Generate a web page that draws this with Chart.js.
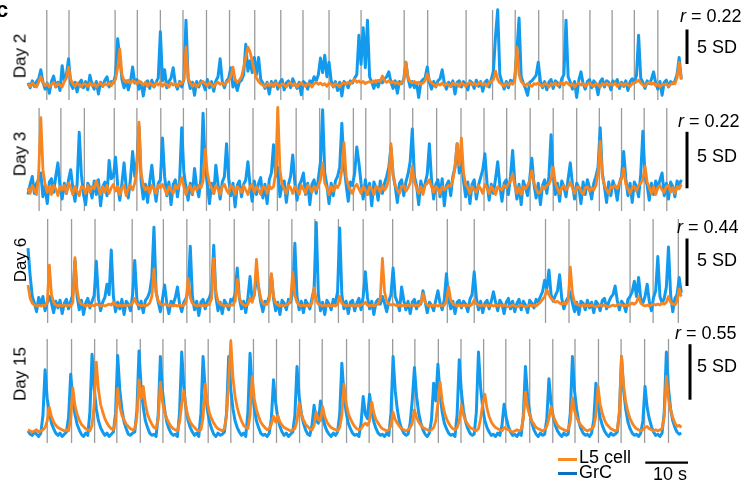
<!DOCTYPE html>
<html>
<head>
<meta charset="utf-8">
<script src="https://cdn.jsdelivr.net/npm/chart.js@4.4.1/dist/chart.umd.min.js"></script>
<style>
  html, body { margin: 0; padding: 0; background: #fff; }
  body {
    width: 746px; height: 484px; position: relative; overflow: hidden;
    font-family: 'Liberation Sans', Arial, sans-serif; color: #000;
  }
  canvas { position: absolute; left: 0; }
  .txt { position: absolute; white-space: nowrap; font-size: 18px; line-height: 1; }
  .day { transform: translate(-50%, -50%) rotate(-90deg); font-size: 17px; }
  .swatch { position: absolute; height: 3px; width: 19px; }
</style>
</head>
<body>
<script>
/// Sampling step of the traces, seconds
const SAMPLE_DT = 0.5

const dayLabels = ['Day 2', 'Day 3', 'Day 6', 'Day 15']
const rValues = ['0.22', '0.22', '0.44', '0.55']
const legendLabels = ['L5 cell', 'GrC']
const SD_BAR = 5
const TIME_BAR = 10

// GrC traces (SD), one row = 10 s
const day2Grc = [
  0.3, -0.4, 0.6, -0.2, 0.5, 0.9, 2.2, 0.4, -0.6, 0.3, -1.2, 0.5, 1.3, -0.3, 0.4, -0.8, 2.8, 0.6, 1.5, 3.8,
  0.2, -0.5, 0.4, -1.0, 0.3, 0.7, -0.4, 0.5, -0.7, 1.4, 0.1, -0.6, 0.5, -1.3, 0.4, -0.2, 0.7, 1.2, -0.3, 0.5,
  0.3, 1.5, 6.7, 4.0, 0.8, -0.4, 0.6, -0.7, 0.5, 2.6, 0.3, 0.8, -0.6, 0.4, -1.6, 0.3, 0.6, -0.5, 0.7, -0.3,
  0.4, 1.0, 7.7, 0.6, 2.2, -0.4, 0.5, 1.0, 2.5, 0.2, -0.6, 0.5, -0.3, 0.8, 9.4, 1.0, -0.5, 0.4, -1.5, 0.5,
  -0.3, 0.6, 0.2, -0.7, 0.8, -0.4, 0.5, -0.9, 0.6, 1.2, 3.8, 0.5, -0.4, 0.6, 1.0, 2.5, -0.3, 0.5, -0.8, 0.4,
  0.7, 1.5, 5.9, 2.0, 3.5, 1.8, 4.0, 1.5, 4.0, 0.8, 0.3, -0.5, 0.4, -1.3, 0.5, -0.2, 0.6, -0.6, 0.4, 0.8,
  -0.7, 0.3, 0.6, -0.4, 0.9, 0.2, -0.5, 0.4, -1.4, 0.5, 0.2, -0.6, 0.6, 0.3, 1.2, 0.6, 1.5, 3.9, 1.8, 4.3,
  1.2, 3.3, 0.6, -0.3, 0.5, -0.8, 0.4, -1.6, 0.5, 0.2, -0.4, 0.6, 0.3, 1.0, 1.5, 7.2, 3.0, 8.3, 2.5, 9.4,
  1.2, 0.4, -0.5, 0.6, -0.3, 0.7, 0.3, 0.9, 1.2, 1.9, 0.4, -0.5, 0.6, -1.2, 0.5, 0.2, 0.8, 3.3, 1.0, -0.3,
  0.5, -0.4, 0.3, -1.8, 0.4, 0.8, 1.0, 2.6, 0.4, -0.6, 0.5, -0.3, 0.6, 0.9, 2.2, 0.3, -0.6, 0.4, -0.2, 0.6,
  -1.3, 0.4, 0.6, -0.3, 0.5, 0.1, -0.7, 0.6, 0.3, -0.5, 0.7, -0.2, 0.5, -0.9, 0.4, 0.7, -0.3, 0.8, 2.0, 7.2,
  10.9, 1.5, 0.4, -0.6, 0.5, -0.4, 0.7, 0.3, 1.0, 5.0, 9.7, 1.2, 0.3, -0.5, -1.5, 0.4, 0.6, 1.0, 1.4, 3.3,
  0.6, -0.4, 0.5, -0.7, 0.4, 0.8, -0.5, 0.6, 0.3, -0.3, 0.9, 1.5, 9.4, 1.2, 0.4, -0.6, 0.5, -1.8, 0.7, 1.9,
  0.2, -0.6, 0.5, 0.8, -0.4, 0.6, 0.2, -1.4, 0.5, 0.9, -0.3, 0.6, 0.4, -0.7, 0.6, 0.2, 0.8, -0.5, 0.4, -0.2,
  0.6, -0.8, 0.5, 0.9, 0.3, 1.4, 7.2, 1.0, 0.4, -0.5, 0.6, 0.2, 0.8, 1.9, 0.3, -0.6, 0.5, -1.5, 0.4, 0.7,
  -0.3, 0.5, 0.2, 0.6, 1.5, 4.0, 0.8,
]
const day3Grc = [
  -0.4, 0.5, 1.2, -0.3, 0.6, 0.9, 1.5, -0.6, 0.4, -1.2, 0.7, 1.0, -0.2, 1.2, 2.4, 0.3, -0.8, 0.6, -0.3, 0.9,
  1.8, 0.2, -1.0, 0.5, 5.1, 1.4, -0.4, -1.3, 0.6, 0.2, -0.7, 0.8, -0.4, 0.9, -1.4, 0.3, 0.7, -0.5, 2.6, 1.0,
  1.2, 2.9, 0.4, -0.9, 0.6, 2.4, 0.2, -0.7, 1.0, 3.4, 1.2, 2.5, 5.6, 0.8, -0.8, 0.5, -1.1, 0.7, 2.2, 0.3,
  -1.0, 0.6, 0.9, 4.6, 1.2, -0.5, 0.7, -1.3, 0.5, 0.9, -0.6, 0.8, 5.5, 1.6, 0.2, -0.9, 0.6, -0.4, 1.9, 0.3,
  -0.6, 1.0, 6.8, 2.0, 0.5, -1.2, 0.6, -0.3, 2.2, 0.5, -0.8, 0.7, 1.2, 4.1, 1.0, -0.5, 0.6, -1.5, 0.4, 0.8,
  -0.6, 0.5, 0.9, 2.5, 0.4, -1.0, 0.8, -0.4, 0.6, 1.1, -0.7, 0.5, -1.2, 0.9, 1.5, 4.0, 1.2, 2.0, -0.6, 0.4,
  0.8, -1.1, 0.5, 1.2, 3.1, 0.6, -0.9, 0.4, 0.8, 1.5, -0.4, 0.6, -1.3, 0.5, 0.9, -0.3, 1.0, 2.5, 7.1, 1.5,
  0.4, -1.2, 0.6, -0.5, 0.8, 1.2, 2.0, 5.9, 2.2, 0.5, -1.0, 0.7, 0.4, 1.5, 3.8, 2.4, 0.6, -0.8, 0.9, -0.4,
  0.6, -1.4, 0.7, 0.2, -0.9, 0.8, -0.3, 0.6, 1.2, 2.0, 3.8, 1.4, 0.3, -1.1, 0.6, 0.9, -0.5, 0.7, 1.4, 2.5,
  5.4, 1.2, 0.4, -1.3, 0.8, -0.2, 0.6, 1.4, 4.1, 0.9, -0.8, 0.5, 0.9, -0.6, 1.0, -1.4, 0.4, 0.8, -0.5, 1.2,
  2.0, 4.1, 1.5, 3.0, 0.8, -0.6, 0.7, -1.2, 0.5, 0.9, -0.8, 0.4, 1.1, 1.8, 3.2, 0.6, -0.9, 0.5, -0.3, 1.0,
  2.5, 0.4, -1.0, 0.6, 0.9, -0.4, 1.2, 3.5, 0.7, -0.8, 0.5, -1.3, 0.8, 0.2, -0.5, 1.0, 2.8, 0.5, -0.7, 0.6,
  -1.3, 0.4, 0.9, -0.3, 1.2, 4.9, 1.3, -0.4, 0.6, -1.0, 0.8, 0.3, -0.6, 1.0, 2.4, 0.5, -0.8, 0.6, 0.2, -1.2,
  0.7, -0.4, 0.9, 0.2, -0.8, 0.6, 1.2, 2.0, 5.5, 1.5, 0.3, -1.1, 0.7, -0.5, 0.8, 0.2, -0.9, 0.6, 1.2, 3.4,
  1.0, -0.5, 0.6, -1.1, 0.7, 0.3, -0.6, 1.4, 5.2, 1.2, 0.4, -0.9, 0.6, -0.4, 0.8, 0.2, 0.9, 1.5, -0.5, 0.6,
  -0.8, 0.7, 0.3, -0.6, 0.8, 0.4, 0.9,
]
const day6Grc = [
  6.1, 3.2, 1.0, 0.3, -0.6, 0.9, 0.2, 1.0, -0.5, 0.4, 1.0, 0.3, -0.7, 0.5, -0.2, 0.6, -0.8, 0.3, 0.7, -0.3,
  0.5, 1.2, 4.8, 1.0, -0.4, 0.6, -0.9, 0.3, 0.8, -0.2, 0.5, 1.1, 4.7, 0.8, -0.5, 0.4, 0.9, 2.3, 1.2, 5.9,
  1.0, -0.6, 0.4, -0.3, 0.7, -0.9, 0.5, 0.2, -0.5, 1.2, 4.8, 0.7, -0.3, 0.5, -0.7, 0.6, 0.9, 1.5, 3.0, 8.3,
  1.5, 0.4, -0.6, 0.8, 2.2, 0.3, -0.8, 0.5, 0.2, 0.9, 2.0, 0.2, -0.6, 0.4, 0.8, 1.5, 6.3, 1.0, -0.4, 0.5,
  -1.0, 0.4, 0.7, -0.3, 0.5, 0.9, 1.6, 6.4, 1.0, -0.5, 0.4, -0.8, 0.6, 0.2, -0.4, 0.7, 0.5, 1.3, 4.0, 0.8,
  -0.3, 0.5, -0.7, 0.9, 3.1, 0.6, 1.2, 3.0, 2.0, 0.4, -0.6, 0.5, 0.3, 1.0, 3.3, 0.8, -0.5, 0.4, -0.9, 0.6,
  0.3, -0.4, 0.7, 0.4, 1.5, 6.6, 1.0, -0.4, 0.5, -0.7, 0.6, 0.2, -0.3, 0.8, 1.8, 8.8, 1.2, -0.5, 0.4, -0.9,
  0.6, 0.2, -0.4, 0.7, 0.3, 1.5, 8.2, 1.2, -0.3, 0.5, -0.8, 0.4, 0.6, -0.5, 0.3, 0.8, -0.4, 1.0, 3.6, 0.9,
  -0.3, 0.5, -0.9, 0.4, 0.7, 0.2, 1.0, 0.3, -0.6, 0.5, 1.2, 4.0, 1.0, 0.4, -0.5, 2.0, 0.6, -0.4, 0.5, -0.8,
  0.4, 0.7, -0.3, 0.5, 0.2, 1.6, 0.5, -0.7, 0.4, 0.1, -0.5, 0.6, 1.6, 0.3, -0.4, 0.7, 3.4, 0.8, -0.3, 0.5,
  -0.8, 0.4, 0.6, -0.2, 0.5, 0.2, -0.6, 0.7, 1.2, 3.6, 0.9, -0.4, 0.5, -0.7, 0.3, 0.6, -0.3, 0.5, 1.5, 0.4,
  -0.5, 0.6, 0.2, -0.8, 0.4, 0.8, -0.3, 0.5, -0.6, 0.3, 0.7, -0.4, 0.5, 0.1, -0.7, 0.6, 0.3, -0.2, 0.7, 0.4,
  1.0, 1.5, 2.7, 1.8, 3.8, 1.2, 0.5, 1.1, 1.6, 3.3, 0.8, -0.3, 0.5, 0.9, 1.5, 0.3, -0.6, 0.4, -0.9, 0.5,
  0.3, -0.4, 0.6, -0.2, 0.4, -0.7, 0.5, 0.2, -0.5, 0.6, 0.8, -0.3, 0.4, 0.9, 1.2, 2.1, 0.6, -0.4, 0.5, 0.2,
  -0.6, 0.7, 1.0, 1.5, 2.6, 1.0, 3.0, 0.8, 0.3, 1.0, 2.3, 0.5, -0.5, 0.9, 1.6, 5.2, 1.0, 0.3, 0.8, 2.0,
  6.2, 1.2, -0.6, 0.8, 1.2, 3.0, 1.4,
]
const day15Grc = [
  0.1, -0.2, -0.3, 0.0, -0.2, -0.4, -0.1, 1.5, 5.6, 3.0, 1.8, 0.8, 0.3, -0.1, -0.3, -0.1, -0.4, -0.2, 0.0, 1.3,
  5.2, 2.9, 1.6, 0.7, 0.2, -0.2, -0.4, -0.1, -0.3, 1.8, 7.0, 3.9, 2.1, 1.0, 0.4, 0.0, -0.3, -0.1, -0.4, -0.2,
  0.0, 1.7, 6.9, 3.8, 2.0, 0.9, 0.3, -0.2, -0.3, -0.1, 0.0, 1.9, 7.3, 4.0, 2.2, 1.0, 0.4, -0.1, -0.3, -0.2,
  -0.4, 1.6, 6.8, 3.7, 2.0, 0.9, 0.3, -0.1, -0.3, -0.2, -0.4, 1.8, 7.2, 4.0, 2.1, 1.0, 0.4, 0.0, -0.3, -0.1,
  -0.4, 1.7, 6.8, 3.8, 2.0, 0.9, 0.3, -0.2, -0.4, -0.1, -0.3, -0.2, 0.0, 1.7, 6.8, 3.8, 2.1, 1.0, 0.4, 0.0,
  -0.3, -0.1, -0.4, 1.8, 7.1, 3.9, 2.1, 1.0, 0.4, -0.1, -0.3, -0.2, -0.4, -0.1, 1.2, 4.7, 2.6, 1.3, 0.5, 0.0,
  -0.3, -0.1, -0.4, -0.2, 0.0, 1.5, 5.9, 3.2, 1.7, 0.8, 0.2, -0.2, -0.3, 0.6, 2.4, 1.0, 0.8, 2.8, 1.4, 0.6,
  0.1, -0.2, -0.4, -0.1, -0.3, 0.0, 1.6, 6.2, 3.4, 1.8, 0.8, 0.3, -0.1, -0.3, -0.2, -0.4, 0.8, 3.2, 1.6, 1.2,
  3.4, 1.8, 0.9, 0.3, -0.1, -0.3, -0.2, -0.4, -0.1, -0.3, 1.7, 6.8, 3.7, 2.0, 0.9, 0.3, -0.1, -0.3, -0.2, 0.8,
  2.9, 5.8, 3.2, 1.7, 0.8, 0.2, -0.2, -0.4, -0.1, 1.1, 4.4, 2.8, 6.1, 3.4, 1.8, 0.8, 0.3, -0.1, -0.3, -0.2,
  -0.4, 1.6, 6.5, 3.6, 1.9, 0.9, 0.3, -0.1, -0.3, -0.2, 1.8, 7.2, 4.0, 2.1, 1.0, 0.4, 0.0, -0.3, -0.2, -0.4,
  -0.1, -0.3, 0.6, 2.5, 1.3, 0.5, 0.0, -0.3, -0.2, -0.4, -0.1, -0.3, 1.5, 5.9, 3.2, 1.7, 0.8, 0.2, -0.2, -0.4,
  -0.1, -0.3, -0.2, 1.2, 4.8, 2.6, 1.4, 0.6, 0.1, -0.2, -0.4, -0.1, -0.3, -0.2, 1.7, 6.8, 3.7, 2.0, 0.9, 0.3,
  -0.1, -0.3, -0.2, -0.4, -0.1, 1.1, 4.4, 2.4, 1.3, 0.6, 0.1, -0.2, -0.4, -0.1, -0.3, -0.2, 0.0, 1.7, 6.8, 3.7,
  2.0, 0.9, 0.3, -0.1, -0.3, -0.2, -0.4, -0.1, 1.0, 4.1, 2.2, 1.2, 0.5, 0.0, -0.3, -0.2, -0.4, -0.1, 1.8, 7.2,
  3.9, 2.1, 1.0, 0.4, 0.0, -0.2, -0.1,
]

// L5 cell traces (SD), one row = 10 s
const day2L5 = [
  0.1, -0.2, 0.3, 0.0, -0.3, 0.4, 1.2, 0.3, -0.1, 0.2, -0.3, 0.1, 0.4, -0.2, 0.2, 0.0, -0.3, 0.5, 1.0, 2.6,
  0.8, 0.2, -0.2, 0.3, 0.0, -0.3, 0.2, 0.1, -0.2, 0.3, -0.1, 0.2, -0.3, 0.1, 0.3, -0.2, 0.2, 0.0, 0.3, -0.1,
  0.4, 0.8, 2.5, 5.2, 1.5, 0.6, 0.4, 0.7, 0.3, 0.6, 0.5, 0.2, 0.6, 0.3, 0.0, 0.4, -0.2, 0.3, 0.1, -0.2,
  0.3, 0.0, 0.4, -0.2, 0.2, 0.1, -0.3, 0.3, 0.0, 0.2, -0.2, 0.3, 0.2, 0.8, 5.5, 1.0, 0.3, -0.2, 0.2, -0.3,
  0.1, 0.3, 0.5, 0.2, -0.1, 0.3, 0.0, -0.3, 0.2, 0.4, 0.1, 0.3, 0.0, 0.4, 0.6, 1.2, 2.6, 0.8, 0.4, 0.7,
  1.2, 2.5, 4.0, 5.5, 4.8, 3.5, 2.0, 1.0, 0.5, 0.2, 0.0, -0.3, 0.2, -0.1, 0.2, -0.2, 0.3, 0.0, -0.2, 0.2,
  0.0, -0.3, 0.2, 0.3, -0.1, 0.2, -0.3, 0.1, 0.3, 0.0, -0.2, 0.2, 0.1, -0.3, 0.2, 0.4, 0.1, 0.3, 0.0, 0.2,
  -0.2, 0.3, 0.1, -0.2, 0.2, 0.0, -0.3, 0.2, 0.3, 0.1, 0.4, 0.2, 0.5, 0.8, 0.4, 0.6, 0.3, 0.5, 0.2, 0.4,
  0.5, 0.3, 0.6, 0.4, 0.7, 0.5, 1.3, 0.6, 0.4, 0.6, 0.3, 0.5, 0.2, 0.4, 0.1, 0.3, 0.6, 3.3, 1.0, 0.5,
  0.3, 0.5, 0.2, 0.4, 0.1, 0.3, 0.6, 1.6, 0.7, 0.3, 0.1, -0.2, 0.2, 0.0, 0.3, -0.1, 0.2, 0.0, -0.2, 0.3,
  0.0, 0.2, -0.2, 0.3, 0.1, -0.2, 0.2, 0.4, 0.0, 0.3, -0.1, 0.2, 0.3, 0.0, 0.2, -0.2, 0.3, 0.5, 0.8, 2.0,
  0.8, 0.3, 0.1, -0.2, 0.2, 0.0, 0.3, 0.1, 0.6, 5.5, 1.5, 0.5, 0.2, -0.1, 0.2, 0.0, -0.2, 0.2, 0.1, 0.3,
  0.0, -0.2, 0.2, 0.1, -0.3, 0.2, 0.0, 0.3, -0.1, 0.2, 0.3, 0.0, 0.4, 0.2, -0.1, 0.2, -0.3, 0.1, 0.3, 0.0,
  0.2, -0.2, 0.1, 0.3, 0.0, -0.2, 0.2, 0.1, -0.3, 0.2, 0.0, 0.3, -0.1, 0.2, 0.0, 0.3, -0.2, 0.1, 0.2, -0.1,
  0.2, 0.0, -0.2, 0.2, 0.3, 0.5, 0.7, 0.3, 0.0, -0.2, 0.2, 0.4, 0.1, 0.3, -0.1, 0.2, -0.3, 0.1, 0.0, 0.2,
  -0.2, 0.1, 0.3, 0.2, 1.0, 3.3, 0.8,
]
const day3L5 = [
  0.2, -0.3, 0.4, 0.0, -0.4, 1.5, 6.4, 1.8, 0.5, -0.2, 0.3, -0.4, 0.4, 0.1, -0.5, 0.3, 0.0, 0.4, -0.3, 0.6,
  0.2, -0.4, 0.3, -0.1, -0.5, 0.3, 0.2, -0.3, 0.4, -0.2, 0.3, 0.1, 0.8, 0.2, -0.4, 0.3, -0.2, 0.4, -0.3, 0.2,
  0.5, -0.1, 0.3, -0.4, 0.2, 0.4, -0.5, 0.2, 0.4, 0.0, 0.6, 1.8, 6.0, 1.5, 0.4, 0.0, 0.3, -0.3, 0.4, 0.1,
  -0.3, 0.4, 0.2, 0.5, 0.1, -0.4, 0.3, 0.0, -0.3, 0.4, 0.1, 0.5, 1.1, 0.3, -0.4, 0.2, 0.4, -0.3, 0.3, 0.0,
  0.4, 0.2, 0.8, 3.6, 1.5, 0.6, 0.2, -0.3, 0.4, 0.1, -0.4, 0.3, 0.5, 0.0, -0.3, 0.4, 0.2, -0.4, 0.3, 0.1,
  -0.2, 0.4, 0.0, -0.4, 0.3, 0.5, -0.2, 0.3, 0.0, -0.4, 0.3, 0.2, -0.3, 0.4, 0.1, 0.3, 1.5, 7.3, 1.8, 0.5,
  0.1, -0.3, 0.4, 0.2, -0.3, 0.3, 0.0, -0.4, 0.4, 0.1, -0.3, 0.4, 0.2, -0.2, 0.3, 0.0, 0.4, 0.9, 2.4, 0.6,
  0.2, -0.4, 0.3, -0.1, 0.4, 0.2, 0.6, 1.8, 4.2, 1.2, 0.4, 0.0, -0.3, 0.3, 0.5, 0.1, -0.3, 0.3, 0.0, -0.4,
  0.3, 0.1, -0.4, 0.3, 0.2, -0.2, 0.4, 0.0, 0.3, 1.0, 4.1, 1.3, 0.4, 0.0, -0.3, 0.3, 0.4, -0.1, 0.2, 0.6,
  2.1, 0.7, 0.2, -0.3, 0.3, -0.4, 0.4, 0.6, 0.9, 0.3, -0.2, 0.3, 0.1, -0.3, 0.3, 0.0, 0.2, 0.4, 0.3, 0.9,
  2.0, 4.1, 2.2, 4.6, 1.5, 0.5, 0.2, -0.3, 0.3, 0.0, -0.2, 0.4, 0.1, -0.3, 0.5, 0.2, -0.3, 0.3, 0.0, -0.4,
  0.3, 0.1, 0.0, 0.4, 0.2, 0.5, 0.8, 1.4, 0.4, -0.3, 0.2, -0.4, 0.3, 0.1, 0.4, 0.8, 1.7, 0.6, 0.1, -0.3,
  -0.2, 0.3, 0.1, 0.4, 0.5, 1.0, 2.0, 0.6, 0.1, -0.3, 0.2, 0.4, 0.0, 0.3, 0.7, 0.2, -0.3, 0.2, 0.3, -0.1,
  -0.4, 0.2, 0.3, -0.1, 0.2, 0.0, 0.4, 1.5, 4.3, 1.2, 0.4, 0.0, -0.3, 0.3, 0.2, 0.4, 0.1, 0.6, 1.0, 1.9,
  0.5, 0.1, -0.3, 0.2, 0.3, -0.1, 0.4, 0.6, 0.9, 2.1, 0.7, 0.2, -0.3, 0.3, -0.4, 0.2, 0.4, 0.0, -0.2, 0.3,
  0.4, -0.2, 0.2, -0.3, 0.3, 0.1, 0.5,
]
const day6L5 = [
  2.2, 0.8, 0.3, 0.1, 0.0, 0.1, 0.0, 0.1, 0.0, 0.3, 4.3, 1.2, 0.4, 0.1, 0.0, 0.1, 0.0, 0.1, 0.0, 0.1,
  0.0, 0.4, 5.1, 1.6, 0.5, 0.2, 0.1, 0.0, 0.1, 0.0, 0.1, 0.0, 0.2, 0.1, 0.0, 0.1, 0.0, 0.1, 0.2, 0.1,
  0.4, 0.1, 0.0, 0.1, 0.0, 0.1, 0.0, 0.1, 0.1, 0.3, 0.8, 0.2, 0.1, 0.0, 0.1, 0.0, 0.1, 0.3, 1.0, 3.9,
  1.4, 0.5, 0.2, 0.1, 0.2, 0.1, 0.0, 0.1, 0.0, 0.1, 0.0, 0.1, 0.0, 0.1, 0.4, 2.9, 0.9, 0.3, 0.1, 0.0,
  0.1, 0.0, 0.1, 0.0, 0.1, 0.2, 0.8, 5.0, 1.5, 0.5, 0.2, 0.1, 0.0, 0.1, 0.0, 0.1, 0.1, 0.5, 2.8, 0.9,
  0.3, 0.1, 0.0, 0.2, 0.8, 0.4, 1.2, 4.9, 2.0, 0.8, 0.3, 0.1, 0.2, 0.6, 3.4, 1.0, 0.3, 0.1, 0.0, 0.1,
  0.0, 0.1, 0.2, 0.6, 3.6, 1.1, 0.4, 0.1, 0.0, 0.1, 0.0, 0.1, 0.0, 0.3, 1.9, 0.6, 0.2, 0.1, 0.0, 0.1,
  0.0, 0.1, 0.0, 0.1, 0.0, 0.2, 1.0, 0.3, 0.1, 0.0, 0.1, 0.0, 0.1, 0.0, 0.1, 0.0, 0.1, 0.2, 0.4, 0.1,
  0.0, 0.1, 0.0, 0.1, 0.2, 0.8, 5.0, 1.5, 0.5, 0.2, 0.1, 0.2, 0.1, 0.0, 0.1, 0.0, 0.1, 0.0, 0.1, 0.0,
  0.1, 0.0, 0.1, 0.0, 0.3, 1.3, 0.4, 0.1, 0.0, 0.1, 0.0, 0.1, 0.0, 0.1, 0.0, 0.1, 0.5, 2.0, 0.6, 0.2,
  0.1, 0.0, 0.1, 0.0, 0.1, 0.0, 0.1, 0.0, 0.2, 0.6, 0.2, 0.1, 0.0, 0.1, 0.0, 0.1, 0.0, 0.1, 0.0, 0.1,
  0.0, 0.1, 0.0, 0.1, 0.0, -0.1, 0.0, 0.1, 0.0, -0.1, 0.0, 0.1, 0.0, -0.1, 0.0, 0.1, 0.0, 0.1, 0.0, 0.2,
  0.4, 0.7, 1.0, 1.7, 1.2, 0.8, 0.6, 0.4, 0.5, 0.3, 0.2, 0.3, 0.2, 0.6, 4.1, 1.3, 0.4, 0.2, 0.1, 0.0,
  0.1, 0.0, 0.1, 0.0, 0.1, 0.0, -0.1, 0.0, 0.1, 0.0, 0.1, 0.0, -0.1, 0.0, 0.1, 0.0, 0.1, 0.2, 0.1, 0.0,
  0.1, 0.0, 0.2, 0.3, 0.2, 0.4, 1.0, 0.3, 0.1, 0.0, 0.1, 0.0, 0.1, 0.2, 0.1, 0.2, 0.1, 0.3, 0.2, 0.4,
  1.0, 0.4, 0.2, 0.1, 0.5, 1.8, 1.0,
]
const day15L5 = [
  0.2, 0.1, 0.0, 0.1, 0.2, 0.0, 0.1, 0.2, 0.4, 1.0, 2.2, 1.4, 0.9, 0.6, 0.4, 0.3, 0.2, 0.1, 0.2, 0.1,
  1.2, 4.0, 2.4, 1.6, 1.1, 0.7, 0.5, 0.3, 0.2, 0.1, 0.6, 2.5, 6.3, 3.8, 2.5, 1.8, 1.2, 0.8, 0.5, 0.3,
  0.2, 1.0, 3.9, 2.3, 1.5, 1.1, 0.7, 0.5, 0.3, 0.2, 0.3, 1.4, 4.7, 3.0, 4.1, 2.5, 1.6, 1.1, 0.7, 0.4,
  0.3, 1.2, 4.5, 2.7, 1.8, 1.2, 0.8, 0.5, 0.3, 0.2, 0.1, 0.9, 2.5, 3.7, 2.2, 1.4, 0.9, 0.6, 0.4, 0.2,
  0.1, 0.2, 1.3, 4.3, 2.6, 1.7, 1.2, 0.8, 0.5, 0.3, 0.2, 0.1, 0.3, 1.5, 4.5, 8.2, 4.9, 3.2, 2.2, 1.5,
  1.0, 0.6, 0.4, 0.3, 1.5, 5.0, 3.0, 2.0, 1.4, 0.9, 0.6, 0.4, 0.2, 0.3, 0.7, 1.4, 0.9, 1.5, 0.9, 0.6,
  0.4, 0.3, 0.2, 0.1, 0.2, 0.3, 1.0, 2.6, 1.6, 1.1, 0.7, 0.5, 0.3, 0.2, 0.6, 1.8, 1.1, 1.0, 2.3, 1.4,
  0.9, 0.6, 0.4, 0.3, 0.2, 0.1, 0.4, 1.5, 4.3, 2.6, 1.7, 1.2, 0.8, 0.5, 0.3, 0.2, 0.3, 0.6, 0.8, 0.6,
  1.0, 2.7, 1.7, 1.1, 0.8, 0.5, 0.3, 0.2, 0.1, 0.2, 0.6, 1.8, 1.1, 0.8, 0.5, 0.3, 0.2, 0.1, 0.2, 0.4,
  0.8, 2.0, 1.3, 0.9, 0.6, 0.4, 0.3, 0.2, 0.1, 0.2, 0.4, 1.0, 2.6, 4.5, 2.8, 1.8, 1.2, 0.8, 0.5, 0.3,
  0.2, 0.4, 1.0, 2.4, 1.5, 1.0, 0.7, 0.4, 0.3, 0.2, 0.1, 0.3, 1.2, 2.6, 3.4, 2.1, 1.4, 0.9, 0.6, 0.4,
  0.3, 0.2, 0.1, 0.4, 0.3, 0.2, 0.1, 0.0, 0.1, 0.2, 0.1, 0.2, 1.2, 3.6, 2.2, 1.5, 1.0, 0.7, 0.4, 0.3,
  0.2, 0.1, 0.2, 0.5, 1.2, 2.3, 1.4, 1.0, 0.6, 0.4, 0.3, 0.2, 0.1, 0.2, 0.9, 3.1, 1.9, 1.3, 0.9, 0.6,
  0.4, 0.2, 0.1, 0.2, 0.3, 0.5, 1.5, 4.1, 2.5, 1.7, 1.1, 0.7, 0.5, 0.3, 0.2, 0.1, 0.2, 1.8, 6.8, 4.1,
  2.7, 1.8, 1.2, 0.8, 0.5, 0.3, 0.2, 0.1, 0.2, 0.4, 0.5, 0.3, 0.2, 0.1, 0.2, 0.1, 0.2, 0.3, 1.4, 5.0,
  3.0, 2.0, 1.3, 0.8, 0.5, 0.6, 0.4,
]

// stimulus / event times (s), gray vertical lines
const day2Events = [4.4, 9.6, 20.4, 25.6, 31.0, 36.3, 41.8, 47.2, 53.1, 59.2, 64.4, 70.5,
  78.0, 88.1, 93.6, 102.6, 108.8, 114.1, 119.6, 125.3, 131.6, 136.8, 142.0, 147.5]
const day3Events = [2.6, 7.7, 13.2, 20.2, 25.5, 31.1, 36.4, 41.8, 47.2, 52.7, 58.4, 62.8,
  68.3, 76.2, 79.1, 84.8, 90.1, 95.7, 101.4, 106.8, 112.1, 117.6, 123.0, 128.5, 133.8,
  139.0, 144.3, 149.6]
const day6Events = [4.6, 10.2, 15.7, 24.4, 31.7, 37.2, 42.6, 48.3, 56.4, 61.8, 67.2, 72.7,
  78.5, 85.4, 98.2, 104.5, 121.2, 126.7, 141.0, 146.4, 152.3]
const day15Events = [4.5, 10.2, 15.6, 20.8, 26.3, 31.6, 36.8, 42.2, 47.5, 52.8, 58.2, 63.6,
  68.9, 74.6, 79.9, 85.4, 90.6, 96.1, 101.4, 106.7, 111.9, 117.5, 122.9, 128.1, 133.6,
  138.9, 144.4, 150.0]

const grcTraces = [day2Grc, day3Grc, day6Grc, day15Grc]
const l5Traces = [day2L5, day3L5, day6L5, day15L5]
const eventTimes = [day2Events, day3Events, day6Events, day15Events]

const GRC_COLOR = 'rgb(18, 155, 238)'
const L5_COLOR = 'rgb(248, 133, 32)'
const EVENT_COLOR = 'rgb(155, 155, 155)'

/// Page layout: x pixel of t = 0 and pixels per second
const X0 = 28
const PX_PER_S = 4.27
const W = 746

// per panel layout in page pixels
const panels = [
  {top: 0, height: 104, zero: 85, pxPerSD: 6.9, lineTop: 10, lineBottom: 100, barX: 687, barBottom: 64, dayY: 56, rY: 16, rX: 680, sdY: 46.5},
  {top: 104, height: 111, zero: 190, pxPerSD: 11.3, lineTop: 108, lineBottom: 211, barX: 687, barBottom: 188.3, dayY: 153.5, rY: 121, rX: 678, sdY: 155.5},
  {top: 215, height: 115, zero: 306, pxPerSD: 9.5, lineTop: 219, lineBottom: 323, barX: 687, barBottom: 286, dayY: 260, rY: 227, rX: 677, sdY: 260},
  {top: 330, height: 154, zero: 432, pxPerSD: 11.1, lineTop: 339, lineBottom: 443, barX: 690, barBottom: 399.7, dayY: 374, rY: 333, rX: 675, sdY: 366},
]

const tAt = (x) => (x - X0) / PX_PER_S

function addText(html, x, y, cls = '') {
  const el = document.createElement('div')
  el.className = 'txt ' + cls
  el.innerHTML = html
  el.style.left = x + 'px'
  el.style.top = y + 'px'
  document.body.appendChild(el)
  return el
}

function lineSet(data, color, width, order) {
  return {
    data,
    borderColor: color,
    borderWidth: width,
    pointRadius: 0,
    tension: 0,
    spanGaps: false,
    borderJoinStyle: 'round',
    borderCapStyle: 'butt',
    order,
  }
}

function makePanel(p, i) {
  const canvas = document.createElement('canvas')
  canvas.width = W
  canvas.height = p.height
  canvas.style.top = p.top + 'px'
  document.body.appendChild(canvas)

  const toVal = (y) => (p.zero - y) / p.pxPerSD
  const lo = toVal(p.lineBottom)
  const hi = toVal(p.lineTop)

  const events = []
  eventTimes[i].forEach((t) => {
    events.push({x: t, y: lo}, {x: t, y: hi}, {x: t, y: null})
  })

  const barT = tAt(p.barX)
  const barV = toVal(p.barBottom)
  const sdBar = [{x: barT, y: barV}, {x: barT, y: barV + SD_BAR}]

  const toPoints = (arr) => arr.map((v, k) => ({x: k * SAMPLE_DT, y: v}))

  const datasets = [
    lineSet(toPoints(l5Traces[i]), L5_COLOR, 2.8, 0),
    lineSet(toPoints(grcTraces[i]), GRC_COLOR, 3.0, 1),
    lineSet(events, EVENT_COLOR, 1.3, 2),
    lineSet(sdBar, '#000', 3, 3),
  ]

  // time scale bar sits under the last panel
  if (i === panels.length - 1) {
    const t0 = tAt(645.3)
    const v = toVal(462.7)
    datasets.push(lineSet([{x: t0, y: v}, {x: t0 + TIME_BAR, y: v}], '#000', 2.2, 3))
  }

  new Chart(canvas.getContext('2d'), {
    type: 'line',
    data: {datasets},
    options: {
      responsive: false,
      animation: false,
      events: [],
      layout: {padding: 0},
      scales: {
        x: {type: 'linear', display: false, min: tAt(0), max: tAt(W)},
        y: {display: false, min: toVal(p.top + p.height), max: toVal(p.top)},
      },
      plugins: {legend: {display: false}, tooltip: {enabled: false}},
    },
  })

  addText(dayLabels[i], 19.5, p.dayY, 'day')
  const r = addText(`<i>r</i> = ${rValues[i]}`, p.rX, p.rY)
  r.style.transform = 'translateY(-50%)'
  const sd = addText(`${SD_BAR} SD`, 697, p.sdY)
  sd.style.transform = 'translateY(-50%)'
}

panels.forEach(makePanel)

// panel letter
const letter = addText('c', -4, -1)
letter.style.fontWeight = 'bold'
letter.style.fontSize = '22px'

// legend
const legendColors = ['rgb(250, 138, 30)', 'rgb(12, 112, 192)']
const legendY = [459, 473.5]
legendLabels.forEach((label, k) => {
  const sw = document.createElement('div')
  sw.className = 'swatch'
  sw.style.left = '558px'
  sw.style.top = (legendY[k] - 1.5) + 'px'
  sw.style.background = legendColors[k]
  document.body.appendChild(sw)
  const t = addText(label, 579, legendY[k] - 2)
  t.style.transform = 'translateY(-50%)'
})
const timeLabel = addText(`${TIME_BAR} s`, 670, 474)
timeLabel.style.transform = 'translate(-50%, -50%)'
</script>
</body>
</html>
